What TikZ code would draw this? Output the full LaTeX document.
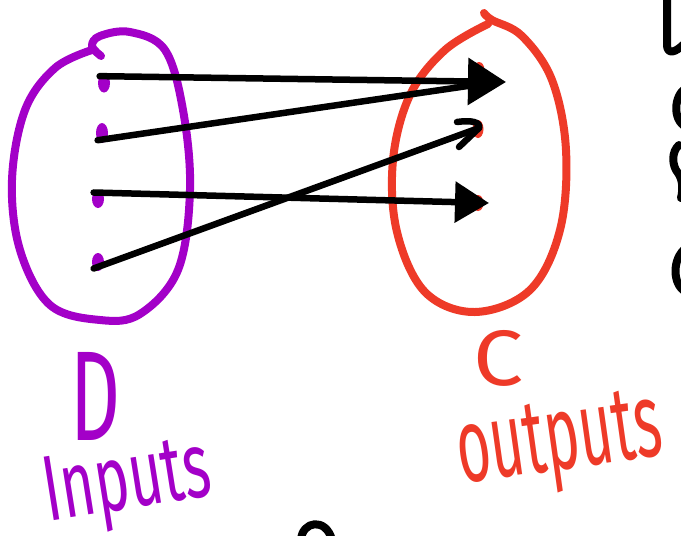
\documentclass[tikz,border=0pt]{standalone}
\usepackage{fontspec}
\setmainfont{Fira Sans}
\usepackage{graphicx}
\usetikzlibrary{shapes.geometric, arrows.meta}

\definecolor{inpurple}{RGB}{163,0,200}
\definecolor{outred}{RGB}{238,58,40}

\begin{document}
\begin{tikzpicture}[
  x=1pt, y=-1pt,
  line cap=round, line join=round,
  pdot/.style={ellipse, fill=inpurple, minimum width=12pt, minimum height=19pt,
               inner sep=0pt},
  rdot/.style={ellipse, fill=outred, minimum width=11pt, minimum height=16pt,
               inner sep=0pt},
  blob/.style={line width=8pt},
  arr/.style={line width=6.5pt},
  pen/.style={inner sep=0pt},
  scrap/.style={line width=8pt}
]
\useasboundingbox[fill=white] (0,0) rectangle (681,536);
\clip (0,0) rectangle (681,536);

% domain
\draw[blob, inpurple] plot[smooth, tension=0.6] coordinates {
  (101,56) (92,46) (100,36) (130,32) (165,50) (183,110) (190,190) (178,270)
  (140,314) (100,320) (50,305) (20,250) (12,180) (25,110) (55,68) (92,50)};
\node[pdot] (a1) at (104,83) {};
\node[pdot, minimum height=20pt] (a2) at (102,133) {};
\node[pdot, minimum height=18pt] (a3) at (98,199) {};
\node[pdot, minimum height=18pt] (a4) at (98,262) {};

% codomain
\draw[blob, outred] plot[smooth, tension=0.6] coordinates {
  (484,13) (492,20) (522,36) (552,80) (566,150) (560,230) (530,290) (475,312)
  (425,292) (397,232) (393,160) (410,95) (445,50) (488,24)};
\node[rdot] (c1) at (479,70) {};
\node[rdot, minimum height=18pt] (c2) at (478,129) {};
\node[rdot] (c3) at (478,203) {};

% maps
\coordinate (t1) at (506,82);
\coordinate (t2) at (488,83);
\coordinate (t3) at (489,203);
\coordinate (t4) at (479,128);
\draw[arr] (a2.south west) -- (t2);
\draw[arr, -{Triangle[length=38pt, width=46pt]}] (a1.north west) -- (t1);
\draw[arr, -{Triangle[length=34pt, width=40pt]}] (a3.north west) -- (t3);
\draw[arr] (a4.south west) -- (t4);
\draw[arr] (t4) ++(-22,-6) .. controls +(14,-2) and +(2,-6) .. (t4)
  -- ++(-20,19);

% labels
\node[pen, text=inpurple] (dlbl) at (96,396) {\resizebox*{50pt}{88pt}{D}};
\node[pen, text=inpurple, rotate=9] (inlbl) at (128,486)
  {\resizebox*{168pt}{84pt}{Inputs}};
\node[pen, text=outred] (clbl) at (499,358) {\resizebox*{50pt}{56pt}{C}};
\node[pen, text=outred, rotate=8] (outlbl) at (560,446)
  {\resizebox*{206pt}{92pt}{outputs}};

% cut-off scribbles at the edges
\draw[scrap] (667,-4) -- (667,46) .. controls (668,55) and (676,52) .. (684,44);
\draw[scrap] (686,88) .. controls (674,95) and (672,120) .. (686,127);
\draw[scrap] (679,145) .. controls (671,152) and (672,166) .. (678,173)
  .. controls (683,180) and (683,190) .. (681,198);
\draw[scrap] (686,248) .. controls (672,258) and (672,285) .. (686,292);
\draw[scrap] (301,540) .. controls (302,521) and (326,517) .. (332,540);
\end{tikzpicture}
\end{document}
